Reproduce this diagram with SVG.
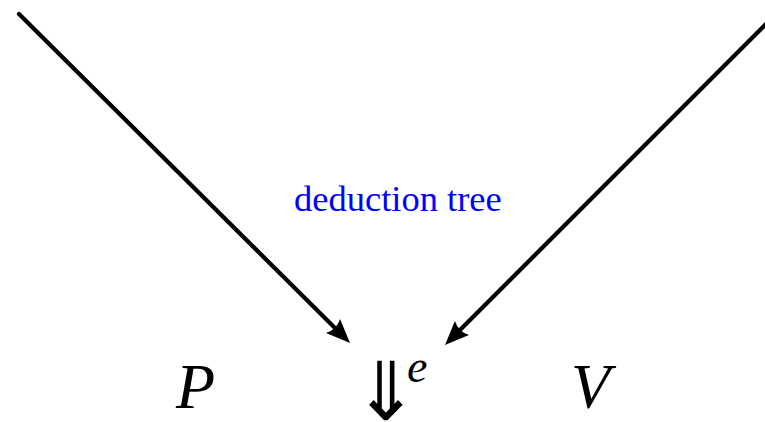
<svg xmlns="http://www.w3.org/2000/svg" width="765" height="422" viewBox="0 0 765 422">
<style>
.conn{stroke:#000;stroke-width:4.2;fill:none;stroke-linecap:round}
.head{fill:#000}
.math{font-family:"Liberation Serif",serif;font-style:italic;fill:#000}
.lbl{font-family:"Liberation Serif",serif;fill:#0000ff}
</style>
<defs>
<path id="ah" d="M0,0 Q-12,-5 -24,-10 Q-19,0 -24,10 Q-12,5 0,0 Z"/>
</defs>
<g id="connectors">
<path class="conn" d="M19,14 L334,327"/>
<use href="#ah" class="head" transform="translate(350,343) rotate(45)"/>
<path class="conn" d="M775,15 L461,329"/>
<use href="#ah" class="head" transform="translate(445,345) rotate(135)"/>
</g>
<g id="P"><text class="math" x="176" y="408" font-size="64">P</text></g>
<g id="arrow"><text transform="translate(353,420) scale(1.4,1.45)" font-size="56" font-family="DejaVu Sans, sans-serif">⇓</text><text class="math" x="407" y="382" font-size="46">e</text></g>
<g id="V"><text class="math" x="571" y="408" font-size="64">V</text></g>
<g id="label"><text class="lbl" x="294" y="211" font-size="36.5">deduction tree</text></g>
</svg>
